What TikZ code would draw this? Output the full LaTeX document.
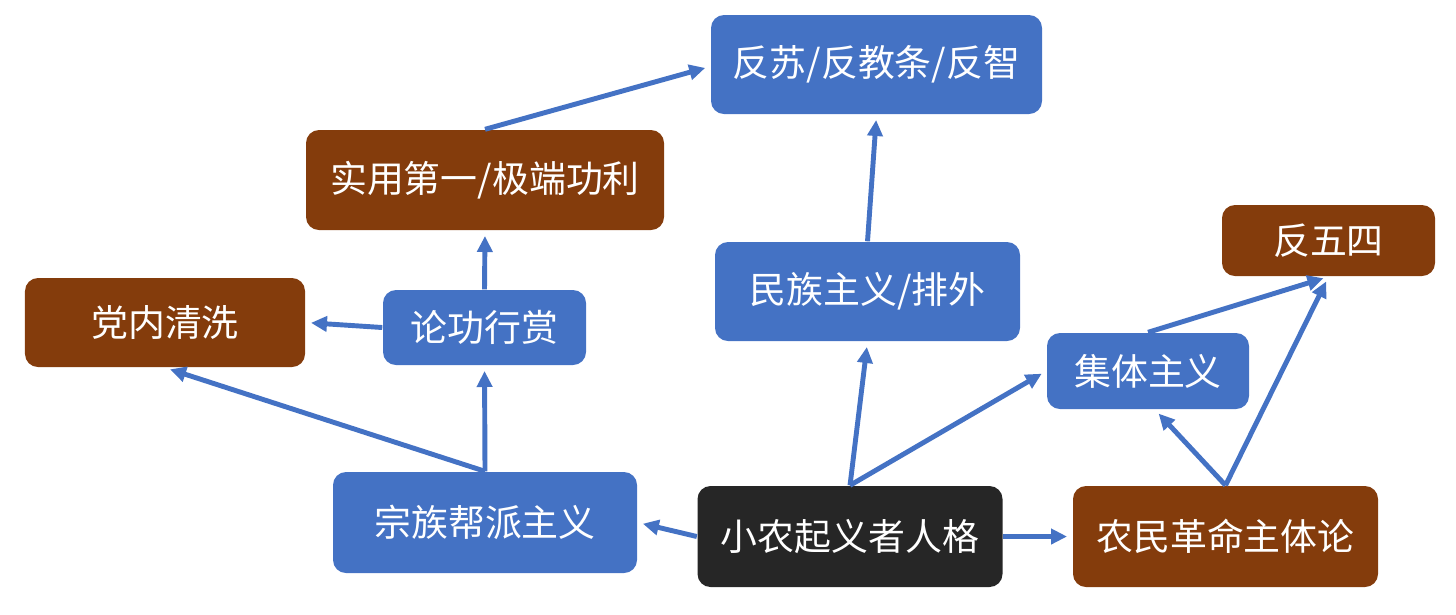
\documentclass[tikz,border=0pt]{standalone}
\usepackage{fontspec}
\usepackage{tikz}
\usetikzlibrary{arrows.meta}
\newfontfamily\cjk{Noto Sans CJK SC}

\definecolor{boxblue}{HTML}{4472C4}
\definecolor{boxbrown}{HTML}{843C0C}
\definecolor{boxblack}{HTML}{262626}

\tikzset{
	box/.style={rounded corners=0.13cm, inner sep=0pt, text=white,
		font=\cjk\fontsize{10.5}{12}\selectfont},
	bluebox/.style={box, fill=boxblue},
	brownbox/.style={box, fill=boxbrown},
	blackbox/.style={box, fill=boxblack},
	link/.style={draw=boxblue, line width=1.4pt, shorten >=1.5pt,
		-{Triangle[length=0.16cm, width=0.15cm]}}
}

\begin{document}
\begin{tikzpicture}[scale=1]
				\useasboundingbox (0, 0) rectangle (14.56, -6.14);

				\node[bluebox, minimum width=3.31cm, minimum height=0.99cm] (fs) at (8.765, -0.645) {反苏/反教条/反智};
				\node[brownbox, minimum width=3.58cm, minimum height=1.00cm] (sy) at (4.85, -1.80) {实用第一/极端功利};
				\node[brownbox, minimum width=2.80cm, minimum height=0.89cm] (dn) at (1.65, -3.225) {党内清洗};
				\node[bluebox, minimum width=2.03cm, minimum height=0.75cm] (lg) at (4.845, -3.275) {论功行赏};
				\node[bluebox, minimum width=3.05cm, minimum height=0.99cm] (mz) at (8.675, -2.915) {民族主义/排外};
				\node[brownbox, minimum width=2.13cm, minimum height=0.71cm] (wu) at (13.285, -2.405) {反五四};
				\node[bluebox, minimum width=2.02cm, minimum height=0.76cm] (jt) at (11.48, -3.71) {集体主义};
				\node[bluebox, minimum width=3.04cm, minimum height=1.01cm] (zz) at (4.85, -5.225) {宗族帮派主义};
				\node[blackbox, minimum width=3.05cm, minimum height=1.01cm] (xn) at (8.50, -5.365) {小农起义者人格};
				\node[brownbox, minimum width=3.05cm, minimum height=1.01cm] (nm) at (12.255, -5.365) {农民革命主体论};

				\draw[link] (sy.north) -- ([yshift=-0.02cm]fs.west);
				\draw[link] (mz.north) -- (fs.south);
				\draw[link] (lg.north) -- (sy.south);
				\draw[link] (lg.west) -- (dn.east);
				\draw[link] (zz.north) -- (lg.south);
				\draw[link] (zz.north) -- (dn.south);
				\draw[link] (xn.west) -- (zz.east);
				\draw[link] (xn.north) -- (mz.south);
				\draw[link] (xn.north) -- (jt.west);
				\draw[link] (xn.east) -- (nm.west);
				\draw[link] (nm.north) -- ([xshift=0.07cm]jt.south);
				\draw[link] (nm.north) -- (wu.south);
				\draw[link] (jt.north) -- (wu.south);

			\end{tikzpicture}
\end{document}
